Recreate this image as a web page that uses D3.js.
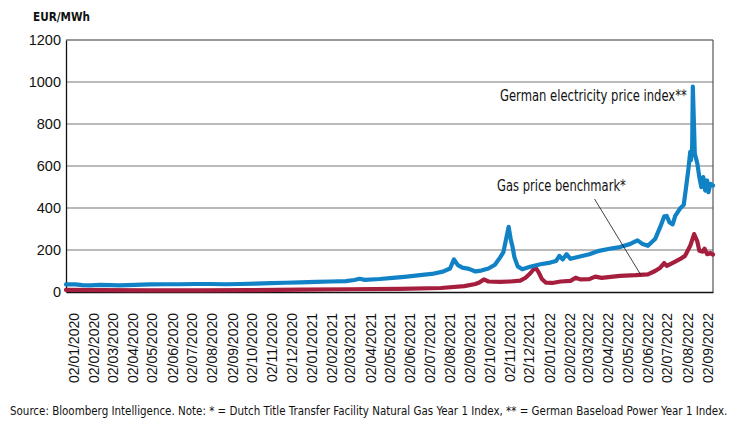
<!DOCTYPE html>
<html>
<head>
<meta charset="utf-8">
<script src="https://cdn.jsdelivr.net/npm/d3@7"></script>
<style>
  html, body { margin: 0; padding: 0; background: #fff; }
  svg { display: block; }
  .cond { font-family: "DejaVu Sans Condensed", "Liberation Sans Narrow", sans-serif; }
  .axis text { font-family: "Liberation Sans", Arial, sans-serif; fill: #111; }
</style>
</head>
<body>
<svg id="chart" width="736" height="432"></svg>
<script>
// ---------------- data ----------------
const unitLabel = "EUR/MWh";
const yTicks = [0, 200, 400, 600, 800, 1000, 1200];
const tickDates = [
  "2020-01-02","2020-02-02","2020-03-02","2020-04-02","2020-05-02","2020-06-02",
  "2020-07-02","2020-08-02","2020-09-02","2020-10-02","2020-11-02","2020-12-02",
  "2021-01-02","2021-02-02","2021-03-02","2021-04-02","2021-05-02","2021-06-02",
  "2021-07-02","2021-08-02","2021-09-02","2021-10-02","2021-11-02","2021-12-02",
  "2022-01-02","2022-02-02","2022-03-02","2022-04-02","2022-05-02","2022-06-02",
  "2022-07-02","2022-08-02","2022-09-02"
];
const tickLabels = tickDates.map(d => { const [yy, m, dd] = d.split("-"); return dd + "/" + m + "/" + yy; });

const powerDates = [
  "2019-12-22","2020-01-05","2020-01-16","2020-01-28","2020-02-13","2020-02-28","2020-03-13",
  "2020-04-06","2020-04-29","2020-05-22","2020-06-14","2020-07-07","2020-07-31","2020-08-23",
  "2020-09-15","2020-10-08","2020-11-01","2020-11-23","2020-12-16","2021-01-09","2021-02-01",
  "2021-02-24","2021-03-09","2021-03-17","2021-03-25","2021-04-17","2021-05-07","2021-05-25",
  "2021-06-18","2021-07-06","2021-07-23","2021-08-03","2021-08-09","2021-08-15","2021-08-22",
  "2021-09-01","2021-09-11","2021-09-20","2021-10-01","2021-10-11","2021-10-19","2021-10-24",
  "2021-10-27","2021-11-01","2021-11-04","2021-11-07","2021-11-10","2021-11-15","2021-11-22",
  "2021-12-04","2021-12-20","2022-01-04","2022-01-13","2022-01-18","2022-01-23","2022-01-29",
  "2022-02-04","2022-02-17","2022-03-05","2022-03-20","2022-04-05","2022-04-21","2022-05-06",
  "2022-05-18","2022-05-26","2022-06-03","2022-06-14","2022-06-22","2022-06-28","2022-07-02",
  "2022-07-06","2022-07-11","2022-07-15","2022-07-22","2022-07-28","2022-07-31","2022-08-04",
  "2022-08-07","2022-08-08","2022-08-10","2022-08-11","2022-08-13","2022-08-14","2022-08-18",
  "2022-08-21","2022-08-24","2022-08-27","2022-08-30","2022-09-02","2022-09-04","2022-09-07",
  "2022-09-11"
];
const powerValues = [
  36, 36, 33, 32, 34, 33, 32,
  34, 36, 37, 37, 38, 38, 37,
  38, 40, 42, 44, 46, 48, 50,
  52, 57, 63, 58, 62, 67, 72,
  80, 86, 97, 112, 155, 128, 116,
  110, 98, 102, 112, 130, 165, 190,
  235, 310, 255, 215, 165, 122, 108,
  120, 132, 140, 148, 172, 155, 180,
  158, 168, 180, 196, 206, 214, 228,
  246, 228, 220, 252, 310, 360, 362,
  332, 322, 362, 396, 415, 483, 580,
  667, 627, 690, 978, 770, 660, 611,
  547, 499, 547, 483, 531, 475, 515,
  507
];

const gasDates = [
  "2019-12-22","2020-02-13","2020-04-29","2020-07-14","2020-09-30","2020-12-16","2021-03-02",
  "2021-05-18","2021-07-20","2021-08-25","2021-09-11","2021-09-17","2021-09-24","2021-10-01",
  "2021-10-19","2021-11-04","2021-11-19","2021-11-27","2021-12-04","2021-12-12","2021-12-17",
  "2021-12-22","2021-12-28","2022-01-07","2022-01-20","2022-02-04","2022-02-12","2022-02-19",
  "2022-03-05","2022-03-14","2022-03-24","2022-04-21","2022-05-15","2022-06-03","2022-06-14",
  "2022-06-22","2022-06-28","2022-07-02","2022-07-12","2022-07-22","2022-07-30","2022-08-07",
  "2022-08-13","2022-08-18","2022-08-21","2022-08-26","2022-08-29","2022-09-02","2022-09-07",
  "2022-09-11"
];
const gasValues = [
  10, 9, 8, 8, 9, 11, 13,
  15, 19, 28, 38, 45, 60, 50,
  48, 50, 54, 68, 88, 118, 95,
  62, 45, 43, 50, 53, 68, 60,
  61, 73, 67, 77, 80, 84, 100,
  116, 138, 124, 140, 156, 172, 220,
  276, 240, 196, 192, 206, 180, 186,
  178
];

const powerLabel = "German electricity price index**";
const gasLabel = "Gas price benchmark*";
const sourceNote = "Source: Bloomberg Intelligence. Note: * = Dutch Title Transfer Facility Natural Gas Year 1 Index, ** = German Baseload Power Year 1 Index.";

// ---------------- drawing ----------------
const parse = d3.timeParse("%Y-%m-%d");
const svg = d3.select("#chart");
const mLeft = 66, mRight = 713, mTop = 40, mBottom = 292;

const x = d3.scaleTime()
  .domain([parse("2019-12-22"), parse("2022-09-11")])
  .range([mLeft, mRight]);
const y = d3.scaleLinear().domain([0, 1200]).range([mBottom, mTop]);

// gridlines
svg.append("g").selectAll("line")
  .data(yTicks.filter(v => v > 0))
  .join("line")
  .attr("x1", mLeft).attr("x2", mRight)
  .attr("y1", d => y(d)).attr("y2", d => y(d))
  .attr("stroke", d => d === 1200 ? "#333" : "#777")
  .attr("stroke-width", 1.2);

// right border
svg.append("line")
  .attr("x1", mRight).attr("x2", mRight).attr("y1", mTop).attr("y2", mBottom)
  .attr("stroke", "#555").attr("stroke-width", 1.2);

// y axis
const yAxis = svg.append("g").attr("class", "axis")
  .attr("transform", `translate(${mLeft},0)`)
  .call(d3.axisLeft(y).tickValues(yTicks).tickSize(0).tickPadding(5).tickFormat(d3.format("d")));
yAxis.select(".domain").attr("stroke", "#111").attr("stroke-width", 1.3);
yAxis.selectAll("text").attr("font-size", 14.5);

// x axis
const xAxis = svg.append("g").attr("class", "axis")
  .attr("transform", `translate(0,${mBottom})`)
  .call(d3.axisBottom(x).tickValues(tickDates.map(parse)).tickSize(0)
    .tickFormat((d, i) => tickLabels[i]));
xAxis.select(".domain").attr("stroke", "#111").attr("stroke-width", 1.3);
xAxis.selectAll("text")
  .attr("font-size", 14)
  .attr("text-anchor", "end")
  .attr("transform", "rotate(-90)")
  .attr("x", -21)
  .attr("y", 0)
  .attr("dy", "0.36em");

// lines
const line = d3.line().x(d => x(d.date)).y(d => y(d.value)).curve(d3.curveLinear);
const gasData = gasDates.map((d, i) => ({ date: parse(d), value: gasValues[i] }));
const powerData = powerDates.map((d, i) => ({ date: parse(d), value: powerValues[i] }));

svg.append("path").datum(gasData)
  .attr("d", line).attr("fill", "none")
  .attr("stroke", "#a51e3e").attr("stroke-width", 4.2)
  .attr("stroke-linejoin", "round").attr("stroke-linecap", "round");
svg.append("path").datum(powerData)
  .attr("d", line).attr("fill", "none")
  .attr("stroke", "#1282c6").attr("stroke-width", 4.2)
  .attr("stroke-linejoin", "round").attr("stroke-linecap", "round");

// condensed text fitted to a target width by horizontal scaling
function fittedText(str, px, py, size, width, bold) {
  const t = svg.append("text").attr("class", "cond")
    .attr("x", 0).attr("y", 0)
    .attr("font-size", size).attr("fill", "#111")
    .attr("font-weight", bold ? "bold" : "normal")
    .text(str);
  const w = t.node().getComputedTextLength();
  const s = Math.min(1, width / w);
  t.attr("transform", `translate(${px},${py}) scale(${s},1)`);
  return t;
}

fittedText(unitLabel, 33, 21, 13, 57, true);
fittedText(powerLabel, 500, 101, 15, 187, false);
fittedText(gasLabel, 497, 191, 15, 129, false);

svg.append("line")
  .attr("x1", x(parse("2022-03-13"))).attr("y1", 199)
  .attr("x2", x(parse("2022-05-23"))).attr("y2", y(82))
  .attr("stroke", "#111").attr("stroke-width", 0.8);

fittedText(sourceNote, 10, 415, 12.5, 718, false);
</script>
</body>
</html>
